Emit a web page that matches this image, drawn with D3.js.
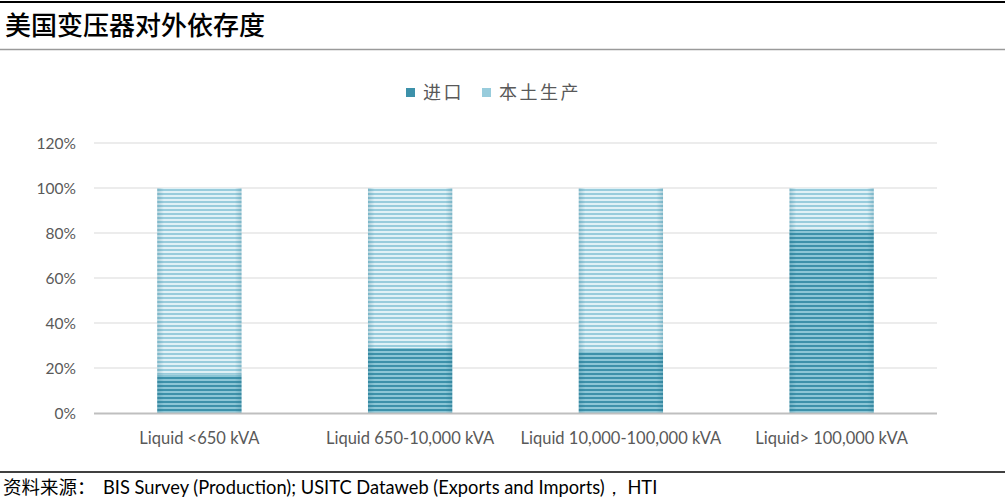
<!DOCTYPE html>
<html><head><meta charset="utf-8">
<script src="https://cdn.jsdelivr.net/npm/d3@7"></script>
<style>
body{margin:0;background:#fff;}
svg{display:block;}
</style></head>
<body>
<svg id="chart" width="1005" height="498"></svg>
<script>
const categories = ["Liquid <650 kVA", "Liquid 650-10,000 kVA", "Liquid 10,000-100,000 kVA", "Liquid> 100,000 kVA"];
const importShare = [17, 29, 27.5, 81.5];
const domesticShare = [83, 71, 72.5, 18.5];
const yTicks = [0, 20, 40, 60, 80, 100, 120];
const seriesNames = ["进口", "本土生产"];
const titleText = "美国变压器对外依存度";
const sourceLabel = "资料来源：";
const sourceText = "BIS Survey (Production); USITC Dataweb (Exports and Imports)， HTI";

(function(){
const svg = d3.select("#chart");
const W = 1005, H = 498;
const pLeft = 94, pRight = 937, pTop = 143, pBottom = 413;

// frame lines
svg.append("line").attr("x1",0).attr("x2",W).attr("y1",2).attr("y2",2).attr("stroke","#000").attr("stroke-width",2);
svg.append("line").attr("x1",0).attr("x2",W).attr("y1",49.5).attr("y2",49.5).attr("stroke","#9a9a9a").attr("stroke-width",1.5);
svg.append("line").attr("x1",0).attr("x2",W).attr("y1",472).attr("y2",472).attr("stroke","#000").attr("stroke-width",1.5);

svg.append("text").attr("x",5).attr("y",35).text(titleText)
  .attr("font-family","'Noto Sans CJK SC'").attr("font-size",26).attr("font-weight",500).attr("fill","#000");

const src = svg.append("text").attr("x",3).attr("y",494).attr("fill","#000");
src.append("tspan").attr("font-family","'Noto Sans CJK SC'").attr("font-size",18.5).text(sourceLabel);
src.append("tspan").attr("x",103).attr("font-family","Lato, sans-serif").attr("font-size",18.3).text(sourceText);

// patterns
const defs = svg.append("defs");
function stripe(id, c1, c2){
  const p = defs.append("pattern").attr("id",id).attr("patternUnits","userSpaceOnUse")
    .attr("width",8).attr("height",4).attr("y", pBottom);
  p.append("rect").attr("width",8).attr("height",4).attr("fill",c2);
  p.append("rect").attr("width",8).attr("height",2).attr("fill",c1);
}
stripe("pImp","#3d91aa","#8cc6d6");
stripe("pDom","#98ccdc","#e0f1f6");
const edge = defs.append("linearGradient").attr("id","edge").attr("x1",0).attr("x2",1);
edge.append("stop").attr("offset","0").attr("stop-color","#1f6f88").attr("stop-opacity",0.25);
edge.append("stop").attr("offset","0.08").attr("stop-color","#1f6f88").attr("stop-opacity",0);
edge.append("stop").attr("offset","0.92").attr("stop-color","#1f6f88").attr("stop-opacity",0);
edge.append("stop").attr("offset","1").attr("stop-color","#1f6f88").attr("stop-opacity",0.25);

const x = d3.scaleBand().domain(categories).range([pLeft,pRight]).paddingInner(0.6).paddingOuter(0.3);
const y = d3.scaleLinear().domain([0,120]).range([pBottom,pTop]);

// gridlines
svg.append("g").selectAll("line").data(yTicks.filter(d=>d>0)).join("line")
  .attr("x1",pLeft).attr("x2",pRight).attr("y1",d=>y(d)).attr("y2",d=>y(d))
  .attr("stroke","#d9d9d9").attr("stroke-width",1.2);

// y axis labels
const yAxis = d3.axisLeft(y).tickValues(yTicks).tickFormat(d=>d+"%").tickSize(0).tickPadding(0);
const gy = svg.append("g").attr("transform",`translate(76,0)`).call(yAxis);
gy.select(".domain").remove();
gy.selectAll("text").attr("font-family","Lato, 'Open Sans', sans-serif").attr("font-size",15.5).attr("fill","#595959").attr("dy","0.36em");

// bars
const stack = categories.map((c,i)=>({c, imp: importShare[i], dom: domesticShare[i]}));
const g = svg.append("g");
g.selectAll(".imp").data(stack).join("rect")
  .attr("x",d=>x(d.c)).attr("width",x.bandwidth())
  .attr("y",d=>y(d.imp)).attr("height",d=>y(0)-y(d.imp)).attr("fill","url(#pImp)");
g.selectAll(".dom").data(stack).join("rect")
  .attr("x",d=>x(d.c)).attr("width",x.bandwidth())
  .attr("y",d=>y(d.imp+d.dom)).attr("height",d=>y(d.imp)-y(d.imp+d.dom)).attr("fill","url(#pDom)");
g.selectAll(".edge").data(stack).join("rect")
  .attr("x",d=>x(d.c)).attr("width",x.bandwidth())
  .attr("y",d=>y(d.imp+d.dom)).attr("height",d=>y(0)-y(d.imp+d.dom)).attr("fill","url(#edge)");

// baseline
svg.append("line").attr("x1",pLeft).attr("x2",pRight).attr("y1",pBottom+0.5).attr("y2",pBottom+0.5)
  .attr("stroke","#bfbfbf").attr("stroke-width",2);

// x axis labels
const xAxis = d3.axisBottom(x).tickSize(0).tickPadding(0);
const gx = svg.append("g").attr("transform",`translate(0,${pBottom+31})`).call(xAxis);
gx.select(".domain").remove();
gx.selectAll("text").attr("font-family","Lato, 'Open Sans', sans-serif").attr("font-size",16.5).attr("fill","#595959").attr("dy","0");

// legend
const legend = svg.append("g");
const legX = [406, 482];
const legSolid = ["#3d91aa","#98ccdc"];
seriesNames.forEach((n,i)=>{
  legend.append("rect").attr("x",legX[i]).attr("y",88).attr("width",9).attr("height",9).attr("fill",legSolid[i]);
  legend.append("text").attr("x",legX[i]+17).attr("y",99).text(n)
    .attr("font-family","'Noto Sans CJK SC'").attr("font-size",18).attr("fill","#595959")
    .attr("letter-spacing",2.5);
});
})();
</script>
</body></html>
